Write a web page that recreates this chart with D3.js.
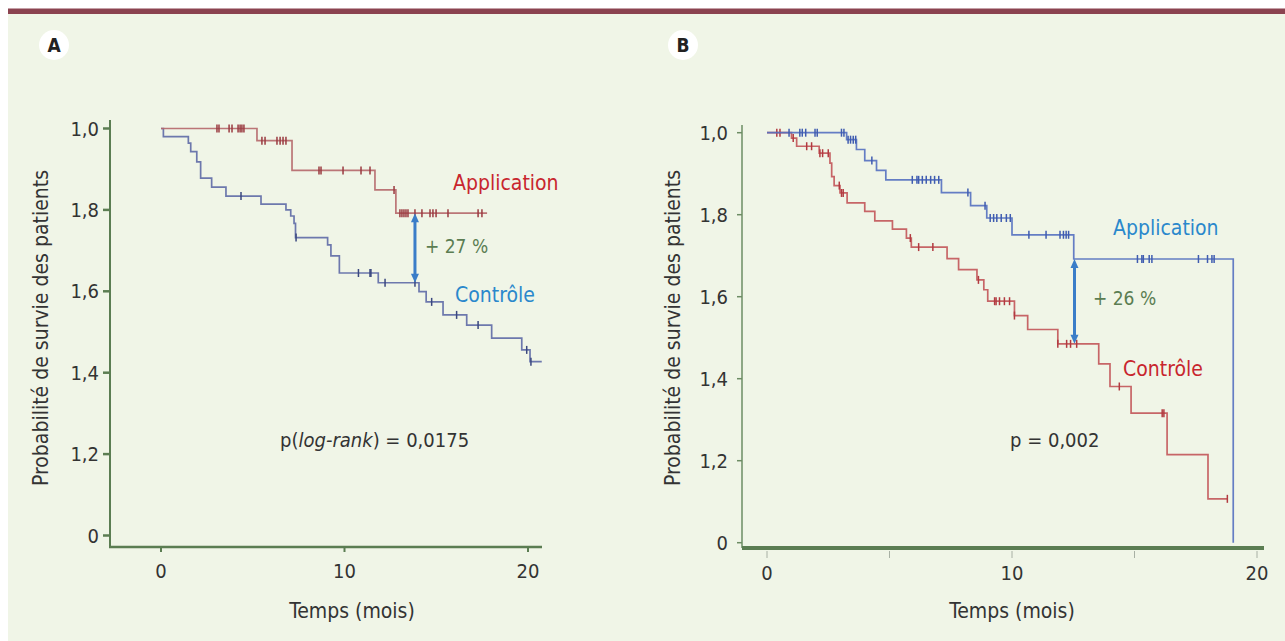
<!DOCTYPE html>
<html>
<head>
<meta charset="utf-8">
<script src="https://cdn.jsdelivr.net/npm/d3@7/dist/d3.min.js"></script>
<style>
  body { margin: 0; background: #fff; }
  svg { display: block; }
  text { font-family: "Liberation Sans Narrow", "DejaVu Sans Condensed", "Roboto", sans-serif; }
</style>
</head>
<body>
<svg id="chart" width="1285" height="641"></svg>
<script>
// ---- data ----
const yTickValues = [1, 0.8, 0.6, 0.4, 0.2, 0];
const yTickLabels = ['1,0', '1,8', '1,6', '1,4', '1,2', '0'];
const xTickValues = [0, 10, 20];

// panel A : application
const aAppTimes = [0, 5.23, 7.14, 11.66, 12.8];
const aAppSurv  = [1, 0.970, 0.897, 0.849, 0.792];
const aAppEnd   = 17.77;
const aAppCens  = [3.05, 3.16, 3.71, 3.87, 4.20, 4.31, 4.41, 4.52, 5.50, 5.67, 6.32, 6.49, 6.65, 6.81,
                   8.61, 8.72, 9.92, 10.90, 11.39, 12.70, 13.02, 13.13, 13.24, 13.35, 13.46, 13.84,
                   14.22, 14.66, 14.82, 14.99, 15.64, 17.28, 17.49];

// panel A : controle
const aCtlTimes = [0, 0.13, 1.49, 1.62, 1.95, 2.16, 2.76, 3.54, 5.45, 6.81, 7.07, 7.25, 7.33, 9.08, 9.26,
                   9.72, 11.84, 14.06, 14.45, 15.37, 16.66, 18.02, 19.66, 20.11];
const aCtlSurv  = [1, 0.980, 0.964, 0.943, 0.918, 0.878, 0.856, 0.834, 0.814, 0.800, 0.785, 0.767, 0.732,
                   0.714, 0.687, 0.645, 0.621, 0.599, 0.574, 0.542, 0.517, 0.485, 0.456, 0.427];
const aCtlEnd   = 20.75;
const aCtlCens  = [4.36, 7.36, 10.76, 11.39, 11.44, 12.21, 13.84, 14.75, 16.11, 17.28, 19.93, 20.16];

// panel B : application
const bAppTimes = [0, 3.25, 3.65, 3.99, 4.47, 4.85, 7.12, 8.31, 8.97, 10.0, 12.52, 19.03];
const bAppSurv  = [1, 0.983, 0.959, 0.932, 0.908, 0.885, 0.854, 0.822, 0.792, 0.751, 0.692, 0];
const bAppEnd   = 19.03;
const bAppCens  = [0.90, 1.34, 1.44, 1.58, 1.96, 2.05, 3.04, 3.14, 3.31, 3.41, 3.52, 3.62, 4.28,
                   5.93, 6.12, 6.19, 6.34, 6.50, 6.68, 6.84, 7.01, 8.20, 8.90, 9.11, 9.25, 9.38,
                   9.56, 9.77, 9.93, 10.69, 11.39, 11.96, 12.10, 12.21, 12.31, 15.12, 15.30, 15.36,
                   15.60, 15.71, 17.61, 17.98, 18.16, 18.25];

// panel B : controle
const bCtlTimes = [0, 1.0, 1.21, 2.13, 2.57, 2.64, 2.74, 2.98, 3.27, 3.99, 4.40, 5.12, 5.69, 5.89, 7.35,
                   7.82, 8.57, 8.85, 9.01, 10.10, 10.64, 11.87, 13.54, 14.0, 14.86, 16.33, 18.0];
const bCtlSurv  = [1, 0.987, 0.967, 0.950, 0.926, 0.893, 0.871, 0.853, 0.829, 0.808, 0.785, 0.765, 0.743,
                   0.721, 0.693, 0.666, 0.641, 0.617, 0.589, 0.554, 0.520, 0.485, 0.436, 0.381, 0.316,
                   0.215, 0.107];
const bCtlEnd   = 18.79;
const bCtlCens  = [0.40, 0.53, 1.07, 1.62, 1.82, 2.16, 2.27, 2.50, 2.95, 3.04, 3.11, 5.85, 6.19, 6.77,
                   8.63, 9.29, 9.35, 9.49, 9.69, 9.90, 10.10, 11.87, 12.23, 12.39, 12.64, 14.38,
                   16.13, 16.20, 18.79];

// arrows : [time, top survival, bottom survival]
const aArrow = [13.84, 0.792, 0.621];
const bArrow = [12.55, 0.692, 0.485];

const svg = d3.select('#chart');
const green = '#5b7d52';

// background
svg.append('rect').attr('x', 8).attr('y', 14).attr('width', 1277).attr('height', 627).attr('fill', '#f0f5e7');
svg.append('rect').attr('x', 8).attr('y', 8.5).attr('width', 1277).attr('height', 5.5).attr('fill', '#8b4350');

// panel letters
[['A', 54], ['B', 683]].forEach(([l, cx]) => {
    svg.append('circle').attr('cx', cx).attr('cy', 45).attr('r', 15).attr('fill', '#fff');
    svg.append('text').attr('x', cx).attr('y', 52).attr('text-anchor', 'middle')
        .style('font-family', '"DejaVu Sans Condensed", sans-serif')
        .style('font-weight', 'bold').style('font-size', '19px').attr('fill', '#222').text(l);
});

const makeCurve = (g, x, y, times, surv, end, cens, color, censColor) => {
    const pts = times.map((t, i) => [t, surv[i]]);
    pts.push([end, surv[surv.length - 1]]);
    const line = d3.line().x(d => x(d[0])).y(d => y(d[1])).curve(d3.curveStepAfter);
    g.append('path').attr('d', line(pts)).attr('fill', 'none')
        .attr('stroke', color).attr('stroke-width', 1.7).attr('stroke-opacity', 0.9);
    const survAt = t => {
        let s = surv[0];
        for (let i = 0; i < times.length; i++) if (times[i] <= t) s = surv[i];
        return s;
    };
    g.selectAll(null).data(cens).enter().append('line')
        .attr('x1', d => x(d)).attr('x2', d => x(d))
        .attr('y1', d => y(survAt(d)) - 4).attr('y2', d => y(survAt(d)) + 4)
        .attr('stroke', censColor).attr('stroke-width', 1.5);
};

const drawArrow = (g, x, y, arr) => {
    const ax = x(arr[0]), y1 = y(arr[1]), y2 = y(arr[2]);
    g.append('line').attr('x1', ax).attr('x2', ax).attr('y1', y1 + 6).attr('y2', y2 - 6)
        .attr('stroke', '#3a7dc8').attr('stroke-width', 3);
    g.append('path').attr('d', `M${ax},${y1} L${ax - 4},${y1 + 9} L${ax + 4},${y1 + 9} Z`).attr('fill', '#3a7dc8');
    g.append('path').attr('d', `M${ax},${y2} L${ax - 4},${y2 - 9} L${ax + 4},${y2 - 9} Z`).attr('fill', '#3a7dc8');
};

const addText = (g, x, y, txt, color, size, anchor = 'start') =>
    g.append('text').attr('x', x).attr('y', y).attr('fill', color)
        .attr('text-anchor', anchor).style('font-size', size + 'px').text(txt);

// ---------- panel A ----------
{
    const x = d3.scaleLinear().domain([0, 20]).range([161, 528]);
    const y = d3.scaleLinear().domain([0, 1]).range([535.5, 128.5]);
    const g = svg.append('g');

    g.append('line').attr('x1', 110).attr('x2', 110).attr('y1', 120).attr('y2', 548)
        .attr('stroke', green).attr('stroke-width', 2);
    g.append('line').attr('x1', 109).attr('x2', 542).attr('y1', 547).attr('y2', 547)
        .attr('stroke', green).attr('stroke-width', 2.5);
    g.selectAll(null).data(yTickValues).enter().append('line')
        .attr('x1', 103).attr('x2', 110).attr('y1', d => y(d)).attr('y2', d => y(d))
        .attr('stroke', green).attr('stroke-width', 2.5);
    g.selectAll(null).data(yTickValues).enter().append('text')
        .attr('x', 99).attr('y', d => y(d) + 7).attr('text-anchor', 'end')
        .style('font-size', '20px').attr('fill', '#333').text((d, i) => yTickLabels[i]);
    g.selectAll(null).data(xTickValues).enter().append('line')
        .attr('x1', d => x(d)).attr('x2', d => x(d)).attr('y1', 547).attr('y2', 552)
        .attr('stroke', green).attr('stroke-width', 2);
    g.selectAll(null).data(xTickValues).enter().append('text')
        .attr('x', d => x(d)).attr('y', 578).attr('text-anchor', 'middle')
        .style('font-size', '20px').attr('fill', '#333').text(d => d);

    addText(g, 352, 618, 'Temps (mois)', '#333', 21, 'middle');
    g.append('text').attr('transform', 'translate(48,328) rotate(-90)').attr('text-anchor', 'middle')
        .style('font-size', '21px').attr('fill', '#333').text('Probabilité de survie des patients');

    makeCurve(g, x, y, aCtlTimes, aCtlSurv, aCtlEnd, aCtlCens, '#5e6aa6', '#3a477f');
    makeCurve(g, x, y, aAppTimes, aAppSurv, aAppEnd, aAppCens, '#b5676a', '#9a3a40');
    drawArrow(g, x, y, aArrow);

    addText(g, 453, 190, 'Application', '#c8262e', 21);
    addText(g, 455, 302, 'Contrôle', '#2a88cc', 21);
    addText(g, 425, 253, '+ 27 %', green, 19);

    const p = g.append('text').attr('x', 280).attr('y', 447).attr('fill', '#333').style('font-size', '20px');
    p.append('tspan').text('p(');
    p.append('tspan').style('font-style', 'italic').text('log-rank');
    p.append('tspan').text(') = 0,0175');
}

// ---------- panel B ----------
{
    const x = d3.scaleLinear().domain([0, 20]).range([767, 1257]);
    const y = d3.scaleLinear().domain([0, 1]).range([542.7, 132.7]);
    const g = svg.append('g');

    g.append('line').attr('x1', 742).attr('x2', 742).attr('y1', 125).attr('y2', 548)
        .attr('stroke', '#6d8c64').attr('stroke-width', 1.5);
    g.selectAll(null).data(yTickValues).enter().append('line')
        .attr('x1', 737).attr('x2', 742).attr('y1', d => y(d)).attr('y2', d => y(d))
        .attr('stroke', '#6d8c64').attr('stroke-width', 1.5);
    g.selectAll(null).data(yTickValues).enter().append('text')
        .attr('x', 728).attr('y', d => y(d) + 7).attr('text-anchor', 'end')
        .style('font-size', '20px').attr('fill', '#333').text((d, i) => yTickLabels[i]);
    g.selectAll(null).data([0, 5, 10, 15, 20]).enter().append('line')
        .attr('x1', d => x(d)).attr('x2', d => x(d)).attr('y1', 551).attr('y2', 558)
        .attr('stroke', '#a8b0a4').attr('stroke-width', 1);
    g.append('line').attr('x1', 742).attr('x2', 1264).attr('y1', 548).attr('y2', 548)
        .attr('stroke', green).attr('stroke-width', 4);
    g.selectAll(null).data(xTickValues).enter().append('text')
        .attr('x', d => x(d)).attr('y', 580).attr('text-anchor', 'middle')
        .style('font-size', '20px').attr('fill', '#333').text(d => d);

    addText(g, 1012, 618, 'Temps (mois)', '#333', 21, 'middle');
    g.append('text').attr('transform', 'translate(680,328) rotate(-90)').attr('text-anchor', 'middle')
        .style('font-size', '21px').attr('fill', '#333').text('Probabilité de survie des patients');

    makeCurve(g, x, y, bCtlTimes, bCtlSurv, bCtlEnd, bCtlCens, '#c25559', '#b23a40');
    makeCurve(g, x, y, bAppTimes, bAppSurv, bAppEnd, bAppCens, '#5470c0', '#3f5cb0');
    drawArrow(g, x, y, bArrow);

    addText(g, 1113, 235, 'Application', '#2a88cc', 21);
    addText(g, 1123, 376, 'Contrôle', '#c8262e', 21);
    addText(g, 1093, 305, '+ 26 %', green, 19);
    addText(g, 1010, 447, 'p = 0,002', '#333', 20);
}
</script>
</body>
</html>
